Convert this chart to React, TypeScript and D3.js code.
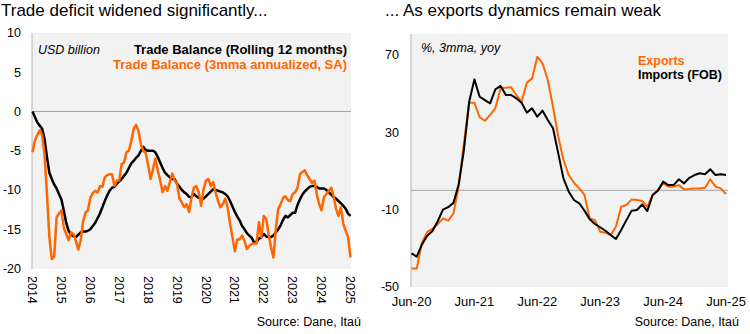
import React from "react";
import * as d3 from "d3";

// ---------- Data ----------
// Left panel: monthly, USD billion
const yearLabels = ["2014","2015","2016","2017","2018","2019","2020","2021","2022","2023","2024","2025"];
const rolling12 = [
  0, -0.7, -1.4, -1.8, -2.2, -3.5, -5.8, -7.8, -8.6, -9.3, -9.8, -10.5,
  -11.2, -12.6, -14.2, -15.2, -15.7, -15.9, -16.0, -15.7, -15.4, -15.3, -15.3, -15.2,
  -15.0, -14.6, -14.2, -13.6, -13.0, -12.2, -11.4, -10.7, -10.1, -9.7, -9.6, -9.2,
  -8.9, -8.6, -8.2, -7.8, -7.2, -6.6, -6.3, -5.9, -5.6, -5.0, -4.5, -4.9,
  -5.0, -5.0, -5.0, -5.2, -5.8, -6.5, -7.2, -7.8, -8.1, -8.4, -8.6, -8.6,
  -9.2, -9.6, -10.0, -10.3, -10.5, -10.9, -10.9, -10.5, -10.8, -11.0, -11.1, -11.1,
  -10.8, -10.5, -10.2, -9.9, -10.0, -10.1, -10.2, -10.3, -10.5, -10.8, -11.4, -12.1,
  -12.8, -13.4, -13.9, -14.6, -15.0, -15.5, -15.8, -16.1, -16.7, -16.6, -16.2, -16.0,
  -15.6, -15.9, -16.0, -16.0, -15.8, -15.4, -15.0, -14.5, -13.8, -13.3, -13.5, -13.2,
  -12.9, -12.9, -11.9, -11.2, -10.6, -10.2, -9.9, -9.6, -9.5, -9.5, -9.6, -9.8,
  -9.8, -9.8, -10.0, -10.3, -10.6, -10.9, -11.1, -11.4, -11.7, -12.0, -12.4, -13.0,
  -13.3
];
const mma3 = [
  -5.2, -3.7, -3.0, -2.4, -3.0, -5.5, -10.5, -16.0, -18.8, -18.5, -13.5, -13.0,
  -12.6, -14.8, -15.6, -16.4, -15.4, -15.6, -16.5, -17.6, -16.4, -14.0, -12.9, -12.6,
  -11.0, -10.4, -10.1, -10.3, -9.5, -9.6, -8.4, -8.1, -8.0, -8.0, -9.5, -8.8,
  -8.8, -6.7, -6.5, -5.2, -5.0, -3.8, -2.2, -1.7, -2.5, -4.2, -5.0, -5.3,
  -6.8, -8.6, -7.4, -6.0, -7.5, -8.8, -10.3, -9.5, -10.1, -9.0, -7.9, -8.8,
  -9.2, -11.1, -11.6, -12.2, -11.8, -12.8, -11.0, -9.7, -9.5, -10.3, -12.0, -9.9,
  -8.8, -8.6, -9.5, -9.0, -10.3, -11.4, -12.2, -11.8, -11.1, -12.2, -14.3, -16.0,
  -17.8, -16.3, -16.3, -15.8, -16.5, -17.5, -17.1, -16.9, -16.8, -16.8, -14.1, -16.0,
  -13.3, -13.7, -15.6, -17.3, -18.6, -15.0, -12.4, -11.8, -11.0, -10.8, -11.3, -11.4,
  -10.5, -10.3, -9.7, -8.0, -7.7, -7.5, -8.1, -8.6, -9.1, -8.8, -10.5, -11.8,
  -12.6, -10.9, -10.5, -10.1, -9.7, -10.8, -12.4, -13.3, -12.2, -14.3, -15.2, -16.0,
  -18.6
];
const leftYTicks = [10, 5, 0, -5, -10, -15, -20];

// Right panel: monthly Jun-20 .. Jun-25, % 3mma yoy
const monthLabels = ["Jun-20", "Jun-21", "Jun-22", "Jun-23", "Jun-24", "Jun-25"];
const exportsYoy = [
  -40.4, -40.4, -27.0, -21.5, -19.9, -17.5, -14.5, -15.7, -12.0, 1.9, 24.3, 45.3,
  45.3, 37.8, 36.0, 39.0, 42.4, 52.8, 53.1, 53.3, 49.3, 45.8, 55.7, 57.9,
  69.1, 65.7, 57.1, 43.2, 27.7, 15.7, 7.9, 3.9, 1.0, -2.4, -14.5, -15.4,
  -21.4, -21.9, -23.1, -18.8, -8.5, -7.6, -4.7, -5.0, -5.5, -8.5, -2.4, 0.2,
  3.6, 1.9, 1.9, 2.7, 0.5, 0.7, 1.0, 1.0, 1.3, 5.7, 1.9, 1.0,
  -1.9
];
const importsYoy = [
  -32.6, -34.3, -28.0, -23.5, -21.0, -16.0, -10.0, -8.7, -6.5, 3.0, 20.8, 45.8,
  57.4, 48.4, 46.7, 45.0, 52.2, 54.0, 49.3, 49.3, 47.6, 45.3, 40.2, 42.4,
  38.1, 41.2, 36.4, 32.1, 19.1, 6.0, -0.7, -5.0, -6.7, -10.5, -15.0, -17.4,
  -19.1, -20.9, -23.1, -25.2, -20.5, -15.4, -10.5, -10.2, -7.3, -10.7, -2.4, -0.2,
  4.5, 2.7, 2.7, 5.7, 3.6, 6.5, 7.9, 8.8, 8.3, 10.9, 7.9, 8.3,
  7.9
];
const rightYTicks = [70, 30, -10, -50];

const ORANGE = "#ff6600";
const FONT = "'Liberation Sans', Arial, sans-serif";

export default function App() {
  // Left scales
  const xL = d3.scaleLinear().domain([0, rolling12.length - 1]).range([32.5, 350.5]);
  const yL = d3.scaleLinear().domain([-20, 10]).range([268.5, 33]);
  const lineL = d3.line<number>().x((_, i) => xL(i)).y((d) => yL(d));

  // Right scales
  const xR = d3.scaleLinear().domain([0, exportsYoy.length - 1]).range([411.5, 726]);
  const yR = d3.scaleLinear().domain([-50, 70]).range([287, 55]);
  const lineR = d3.line<number>().x((_, i) => xR(i)).y((d) => yR(d));

  return (
    <svg
      width={750}
      height={334}
      style={{ position: "absolute", left: 0, top: 0, background: "#fff", fontFamily: FONT }}
    >
      {/* ---------- Left panel ---------- */}
      <text x={1} y={16} fontSize={17} fill="#000">Trade deficit widened significantly...</text>
      <rect x={32} y={33} width={319} height={236} fill="#f2f2f2" />
      <line x1={32} x2={351} y1={yL(0)} y2={yL(0)} stroke="#a6a6a6" strokeWidth={1} />
      <line x1={32} x2={32} y1={33} y2={269} stroke="#b3b3b3" strokeWidth={1} />
      {leftYTicks.map((t) => (
        <text key={t} x={21} y={yL(t)} dy="0.35em" textAnchor="end" fontSize={12.5} fill="#000">{t}</text>
      ))}
      {yearLabels.map((lab, k) => (
        <text
          key={lab}
          transform={`translate(${xL(k * 12)},${276}) rotate(90)`}
          dy="0.35em"
          textAnchor="start"
          fontSize={12.5}
          fill="#000"
        >{lab}</text>
      ))}
      <path d={lineL(rolling12) ?? ""} fill="none" stroke="#000" strokeWidth={2.5} strokeLinejoin="round" />
      <path d={lineL(mma3) ?? ""} fill="none" stroke={ORANGE} strokeWidth={2.5} strokeLinejoin="round" />
      <text x={38} y={54} fontSize={12.5} fontStyle="italic" fill="#000">USD billion</text>
      <text x={347} y={54} fontSize={13} fontWeight="bold" textAnchor="end" fill="#000">Trade Balance (Rolling 12 months)</text>
      <text x={347} y={69} fontSize={13} fontWeight="bold" textAnchor="end" fill={ORANGE}>Trade Balance (3mma annualized, SA)</text>
      <text x={361} y={326} fontSize={12.5} textAnchor="end" fill="#000">Source: Dane, Itaú</text>

      {/* ---------- Right panel ---------- */}
      <text x={385} y={16} fontSize={17} fill="#000">... As exports dynamics remain weak</text>
      <rect x={411} y={34} width={317} height={253} fill="#f2f2f2" />
      <line x1={411} x2={728} y1={yR(0)} y2={yR(0)} stroke="#a6a6a6" strokeWidth={1} />
      <line x1={411} x2={411} y1={34} y2={287} stroke="#b3b3b3" strokeWidth={1} />
      {rightYTicks.map((t) => (
        <text key={t} x={399} y={yR(t)} dy="0.35em" textAnchor="end" fontSize={12.5} fill="#000">{t}</text>
      ))}
      {monthLabels.map((lab, k) => (
        <text key={lab} x={xR(k * 12)} y={306} textAnchor="middle" fontSize={13} fill="#000">{lab}</text>
      ))}
      <path d={lineR(exportsYoy) ?? ""} fill="none" stroke={ORANGE} strokeWidth={2} strokeLinejoin="round" />
      <path d={lineR(importsYoy) ?? ""} fill="none" stroke="#000" strokeWidth={2} strokeLinejoin="round" />
      <text x={421} y={52} fontSize={12.5} fontStyle="italic" fill="#000">%, 3mma, yoy</text>
      <text x={638} y={65} fontSize={12.5} fontWeight="bold" fill={ORANGE}>Exports</text>
      <text x={638} y={79} fontSize={12.5} fontWeight="bold" fill="#000">Imports (FOB)</text>
      <text x={739} y={326} fontSize={12.5} textAnchor="end" fill="#000">Source: Dane, Itaú</text>
    </svg>
  );
}
